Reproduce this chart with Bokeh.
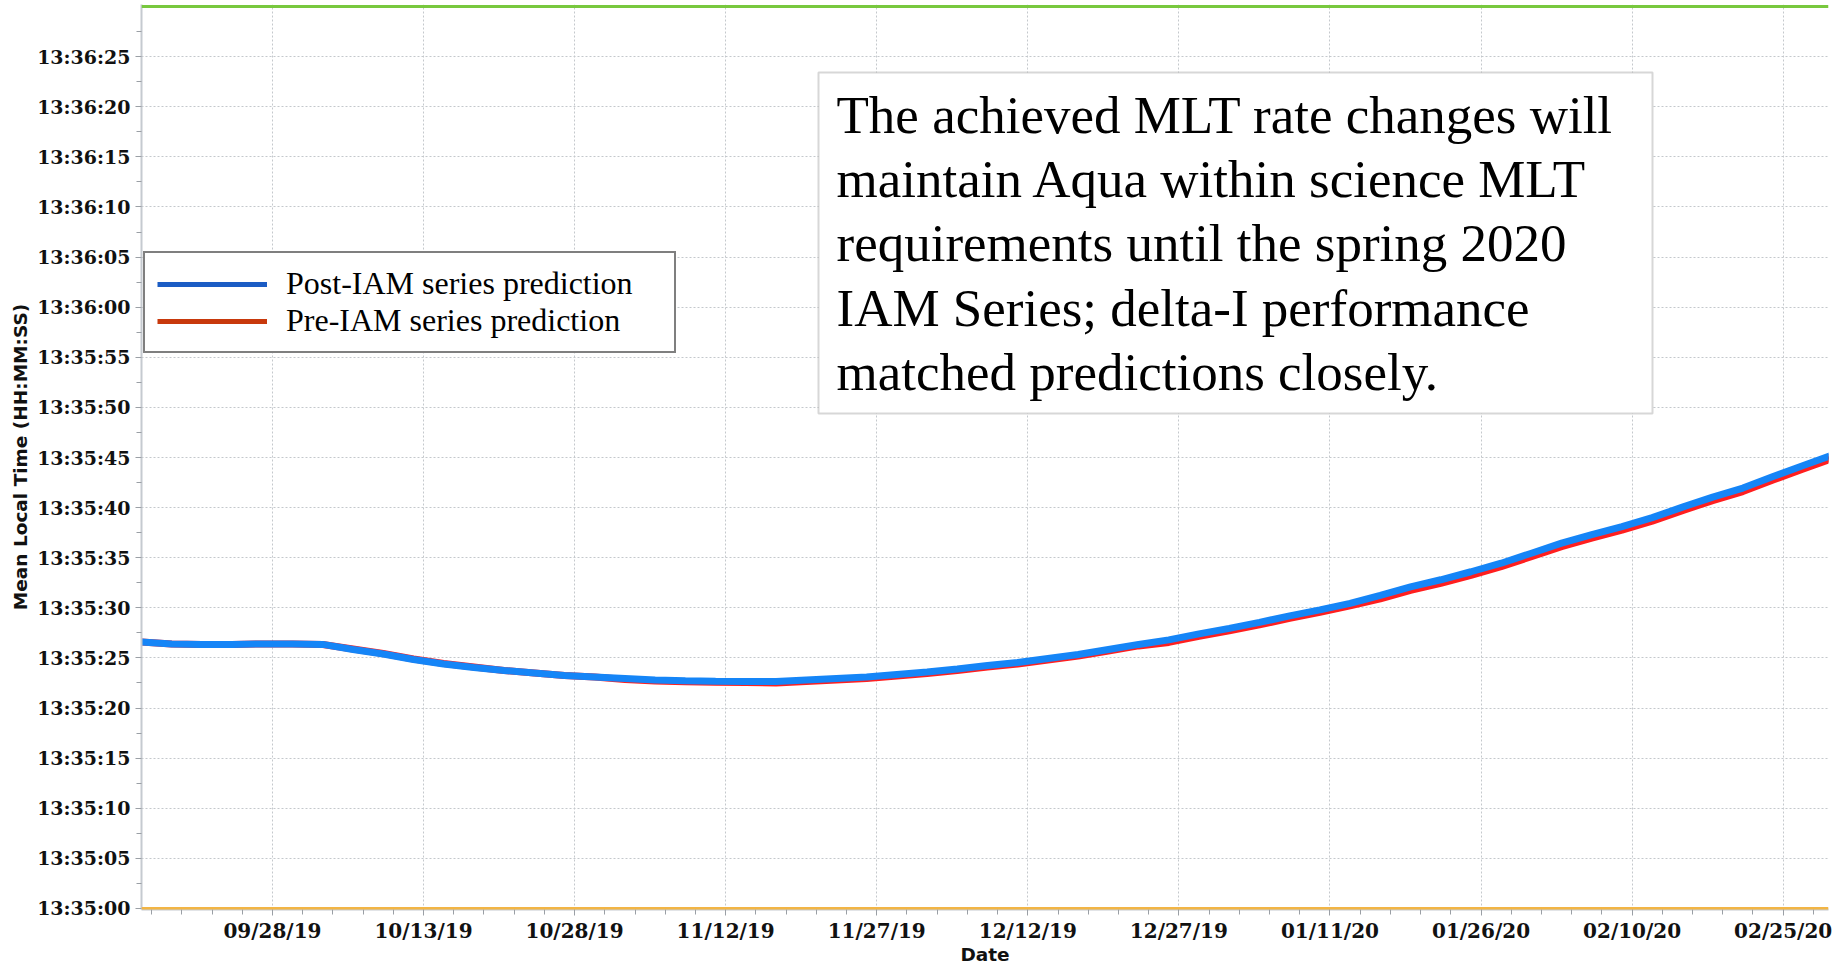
import pandas as pd
from bokeh.plotting import figure
from bokeh.models import (Range1d, FixedTicker, DatetimeTickFormatter, Legend, LegendItem,
                          BoxAnnotation, Label, Span)
from bokeh.embed import file_html
from bokeh.resources import INLINE

# ---------------- data (seconds after 13:35:00, sampled every 3 days from 2019-09-15) -------------
start_date = "2019-09-15"
sample_step = "3D"
post_iam = [26.6, 26.4, 26.35, 26.35, 26.4, 26.4, 26.35, 25.85, 25.4, 24.85, 24.4, 24.05,
            23.75, 23.5, 23.25, 23.1, 22.95, 22.8, 22.72, 22.68, 22.65, 22.65, 22.8, 22.95,
            23.1, 23.35, 23.6, 23.9, 24.25, 24.55, 24.95, 25.35, 25.85, 26.35, 26.8, 27.4,
            27.95, 28.55, 29.2, 29.8, 30.45, 31.25, 32.1, 32.8, 33.6, 34.45, 35.45, 36.45,
            37.3, 38.1, 39.0, 40.05, 41.05, 41.95, 43.1, 44.2, 45.3]
pre_iam = [26.6, 26.4, 26.35, 26.35, 26.4, 26.4, 26.35, 25.9, 25.45, 24.9, 24.45, 24.1,
           23.75, 23.5, 23.25, 23.1, 22.85, 22.7, 22.62, 22.58, 22.55, 22.5, 22.65, 22.8,
           22.95, 23.2, 23.45, 23.75, 24.1, 24.4, 24.8, 25.2, 25.7, 26.2, 26.55, 27.15,
           27.7, 28.3, 28.95, 29.55, 30.2, 30.9, 31.75, 32.45, 33.25, 34.1, 35.1, 36.1,
           36.95, 37.75, 38.65, 39.7, 40.7, 41.6, 42.75, 43.85, 44.95]
upper_limit = 90.0   # 13:36:30
lower_limit = 0.0    # 13:35:00

x_tick_labels = ["09/28/19", "10/13/19", "10/28/19", "11/12/19", "11/27/19", "12/12/19",
                 "12/27/19", "01/11/20", "01/26/20", "02/10/20", "02/25/20"]
y_tick_labels = ["13:35:00", "13:35:05", "13:35:10", "13:35:15", "13:35:20", "13:35:25",
                 "13:35:30", "13:35:35", "13:35:40", "13:35:45", "13:35:50", "13:35:55",
                 "13:36:00", "13:36:05", "13:36:10", "13:36:15", "13:36:20", "13:36:25"]
x_title = "Date"
y_title = "Mean Local Time (HH:MM:SS)"
legend_labels = ["Post-IAM series prediction", "Pre-IAM series prediction"]
note_text = ("The achieved MLT rate changes will\n"
             "maintain Aqua within science MLT\n"
             "requirements until the spring 2020\n"
             "IAM Series; delta-I performance\n"
             "matched predictions closely.")

# ---------------- derived ----------------
dates = pd.date_range(start_date, periods=len(post_iam), freq=sample_step)
x_ticks = [t.value / 1e6 for t in pd.to_datetime(x_tick_labels, format="%m/%d/%y")]
x_minor = [t.value / 1e6 for t in pd.date_range("2019-09-16", "2020-02-29", freq="3D")]


def to_sec(lbl):
    h, m, s = (int(v) for v in lbl.split(":"))
    return (m - 35) * 60 + s


y_ticks = [to_sec(l) for l in y_tick_labels]
y_minor = [t + 2.5 for t in y_ticks]

W, H = 1843, 967
FL, FR, FT, FB = 141, 1828, 4, 909   # frame edges in canvas px
p = figure(width=W, height=H, x_axis_type="datetime", output_backend="svg",
           toolbar_location=None,
           x_range=Range1d(pd.Timestamp("2019-09-15"), pd.Timestamp("2020-02-29 12:00")),
           y_range=Range1d(-0.1, 90.2),
           min_border_left=FL, min_border_top=FT, min_border_right=W - FR,
           min_border_bottom=H - FB)
p.outline_line_color = None
p.background_fill_color = "white"

# grids
for g in (p.xgrid, p.ygrid):
    g.grid_line_color = "#c4c8cc"
    g.grid_line_dash = "2 2"
    g.grid_line_width = 1

# axes
p.xaxis.ticker = FixedTicker(ticks=x_ticks, minor_ticks=x_minor)
fmt = "%m/%d/%y"
p.xaxis.formatter = DatetimeTickFormatter(days=fmt, months=fmt, years=fmt, hours=fmt,
                                          hourmin=fmt, minutes=fmt, minsec=fmt, seconds=fmt,
                                          milliseconds=fmt, microseconds=fmt)
p.yaxis.ticker = FixedTicker(ticks=y_ticks, minor_ticks=y_minor)
p.yaxis.major_label_overrides = {t: l for t, l in zip(y_ticks, y_tick_labels)}

for ax in (p.xaxis[0], p.yaxis[0]):
    ax.major_label_text_font = "DejaVu Serif"
    ax.major_label_text_font_style = "bold"
    ax.major_label_text_color = "#111111"
    ax.axis_label_text_font = "DejaVu Sans"
    ax.axis_label_text_font_style = "bold"
    ax.axis_label_text_font_size = "18.5px"
    ax.axis_label_text_color = "#111111"
    ax.axis_line_color = "#c5cad0"
    ax.axis_line_width = 2
    ax.major_tick_line_color = "#9a9fa5"
    ax.minor_tick_line_color = "#9a9fa5"
    ax.major_tick_in = 0
    ax.major_tick_out = 6
    ax.minor_tick_in = 0
    ax.minor_tick_out = 5

p.xaxis.major_label_text_font_size = "20px"
p.xaxis.major_label_text_line_height = 1.0
p.xaxis.axis_label_text_line_height = 1.0
p.xaxis.major_label_standoff = 3
p.xaxis.axis_label = x_title
p.xaxis.axis_label_standoff = -2
p.yaxis.major_label_text_font_size = "19px"
p.yaxis.axis_label = y_title
p.yaxis.major_label_standoff = 5
p.yaxis.axis_label_standoff = 3

# requirement limits
p.add_layout(Span(location=upper_limit, dimension="width", line_color="#78c83e", line_width=3))
p.add_layout(Span(location=lower_limit, dimension="width", line_color="#f2b545", line_width=3))

# legend swatch renderers (same data, hidden under the plotted series)
leg_pre = p.line(dates, pre_iam, color="#c8390c", line_width=5)
leg_post = p.line(dates, post_iam, color="#1b5cc4", line_width=5)
# series
p.line(dates, pre_iam, color="#ff1f1f", line_width=7)
p.line(dates, post_iam, color="#1585f7", line_width=7)

legend = Legend(items=[LegendItem(label=legend_labels[0], renderers=[leg_post]),
                       LegendItem(label=legend_labels[1], renderers=[leg_pre])],
                location=(2, FB - 353), margin=0, padding=12, spacing=-3,
                glyph_width=110, glyph_height=20, label_standoff=19, label_width=376,
                label_text_font="Liberation Serif", label_text_font_size="32px",
                label_text_color="black",
                border_line_color="black", border_line_width=2,
                background_fill_color="white", background_fill_alpha=1)
p.add_layout(legend)

# note box
p.add_layout(BoxAnnotation(left=818 - FL, right=1652 - FL, top=FB - 72, bottom=FB - 413,
                           left_units="screen", right_units="screen",
                           top_units="screen", bottom_units="screen",
                           fill_color="white", fill_alpha=1,
                           line_color="#7a7a7a", line_width=2))
p.add_layout(Label(x=836 - FL, y=FB - 85, x_units="screen", y_units="screen", text=note_text,
                   text_font="Liberation Serif", text_font_size="53px",
                   text_baseline="top", text_align="left", text_line_height=1.11,
                   text_color="black"))

open("out.html", "w").write(file_html(p, INLINE))
